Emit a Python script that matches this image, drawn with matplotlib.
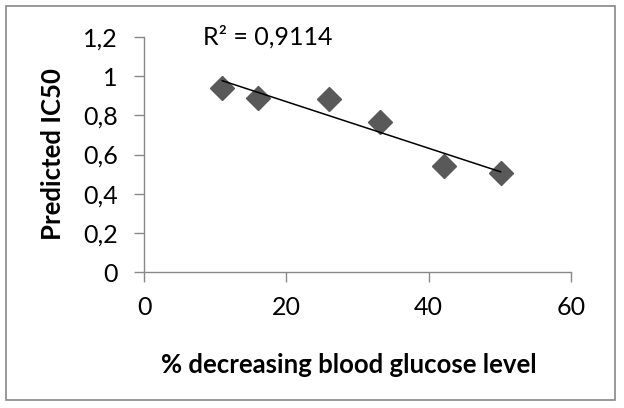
import matplotlib.pyplot as plt
import numpy as np
from matplotlib.patches import Rectangle
from matplotlib.ticker import FuncFormatter

plt.rcParams['font.family'] = ['Lato', 'DejaVu Sans']

# values
glucose_drop = [11.0, 16.0, 26.0, 33.2, 42.1, 50.1]
ic50 = [0.942, 0.889, 0.881, 0.764, 0.541, 0.507]
r2_label = "R² = 0,9114"

fig = plt.figure(figsize=(6.24, 4.08), dpi=100)
ax = fig.add_axes([0.2308, 0.3333, 0.6843, 0.576])

ax.plot(glucose_drop, ic50, linestyle="none", marker="D", markersize=12.5,
        color="#595959", zorder=3)

# linear trendline over the data range
slope, intercept = np.polyfit(glucose_drop, ic50, 1)
xs = np.array([min(glucose_drop), max(glucose_drop)])
ax.plot(xs, slope * xs + intercept, color="black", linewidth=1.1, zorder=4)

ax.set_xlim(0, 60)
ax.set_ylim(0, 1.2)
ax.set_xticks([0, 20, 40, 60])
ax.set_yticks([0, 0.2, 0.4, 0.6, 0.8, 1.0, 1.2])

def comma(v, pos):
    s = f"{v:g}"
    return s.replace(".", ",")

ax.yaxis.set_major_formatter(FuncFormatter(comma))

for side in ["top", "right"]:
    ax.spines[side].set_visible(False)
for side in ["left", "bottom"]:
    ax.spines[side].set_color("#888888")
    ax.spines[side].set_linewidth(1.0)
ax.tick_params(direction="out", length=7, width=1.0, color="#888888",
               labelsize=18)
ax.tick_params(axis="y", pad=12)
ax.tick_params(axis="x", pad=10)

ax.set_xlabel("% decreasing blood glucose level", fontsize=18.5,
              fontweight="bold")
ax.xaxis.set_label_coords(0.48, -0.345)
ax.set_ylabel("Predicted IC50", fontsize=18.5, fontweight="bold", labelpad=13)

ax.text(0.137, 1.0, r2_label, transform=ax.transAxes, fontsize=18,
        ha="left", va="center")

fig.patches.append(Rectangle((6 / 624, 8 / 408), 609 / 624, 394 / 408,
                             transform=fig.transFigure, fill=False,
                             edgecolor="#888888", linewidth=1.2))

fig.savefig("out.png", dpi=100)
